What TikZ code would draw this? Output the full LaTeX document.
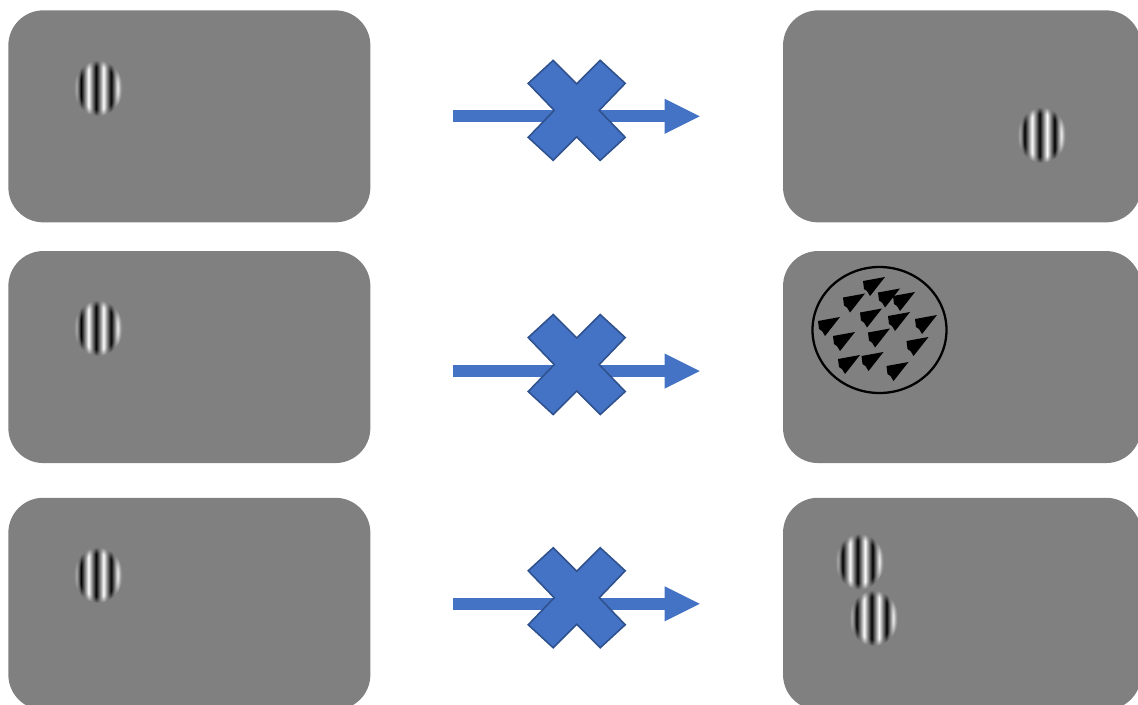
\documentclass[tikz,border=0pt]{standalone}
\usetikzlibrary{arrows.meta, positioning, fadings, calc}
\definecolor{screengray}{HTML}{808080}
\definecolor{flowblue}{HTML}{4472C4}
\definecolor{flowblued}{HTML}{2F528F}
\pgfdeclarehorizontalshading{gaborbars}{100bp}{color(0bp)=(screengray); color(25bp)=(screengray);
  color(28bp)=(white!80!black); color(33bp)=(black); color(40.5bp)=(white); color(48bp)=(black);
  color(55.5bp)=(white); color(63bp)=(black); color(70bp)=(white); color(75bp)=(screengray);
  color(100bp)=(screengray)}
\pgfdeclareradialshading{gaborenv}{\pgfpointorigin}{color(0bp)=(white); color(19bp)=(white);
  color(25bp)=(black); color(50bp)=(black)}
\pgfdeclarefading{gaborfade}{\pgfuseshading{gaborenv}}
\tikzset{
  panel/.style={fill=screengray, rounded corners=7mm, minimum width=72.4mm, minimum height=42.4mm, inner sep=0pt},
  flow/.style={-{Triangle[length=7mm, width=7mm, line width=0pt]}, draw=flowblue, line width=2.4mm,
    shorten <=16.4mm, shorten >=16.6mm},
  blockx/.style={fill=flowblue, draw=flowblued, line width=0.9pt, line join=miter},
  ring/.style={draw=black, line width=1.3pt},
  tipmark/.style={fill=black},
  gabor/.pic={\shade[shading=gaborbars, path fading=gaborfade] (0,0) ellipse (25 and 28);},
  nomark/.pic={\path[blockx] (0,-26.5) -- (23.5,-50) -- (48.5,-27) -- (22.5,0) -- (48.5,27) -- (23.5,50)
    -- (0,26.5) -- (-23.5,50) -- (-48.5,27) -- (-22.5,0) -- (-48.5,-27) -- (-23.5,-50) -- cycle;}
}
\begin{document}
\begin{tikzpicture}[x=0.2mm, y=-0.2mm]
\useasboundingbox (0,0) rectangle (1138,705);
% screens
\node[panel, anchor=north west] (l1) at (8,10) {};
\node[panel, below=5.6mm of l1] (l2) {};
\node[panel, below=6.8mm of l2] (l3) {};
\node[panel, right=82.4mm of l1, minimum width=71.6mm] (r1) {};
\node[panel, right=82.4mm of l2, minimum width=71.6mm] (r2) {};
\node[panel, right=82.4mm of l3, minimum width=71.6mm] (r3) {};
% gratings
\pic at (98,88) {gabor}; \pic at (98,328) {gabor}; \pic at (98,575) {gabor};
\pic at (1041.5,135) {gabor};
\pic at (859.5,561.5) {gabor}; \pic at (873.5,618) {gabor};
% dot field
\draw[ring] (879.5,330) ellipse (67 and 63);
\foreach \px/\py in {873/285, 853/301.5, 888/296.5, 903/300, 870/316.5, 898/320, 925/323,
  828/325, 843/340, 878/336.5, 916.5/345, 848/363, 871.5/360, 896.5/370}
  \fill[tipmark, shift={(\px,\py)}] (12,-8) -- (-10,-4) -- (-9,4) -- (-6,6) -- (-3,11) -- (1,6) -- cycle;
% blocked transitions
\draw[flow] (l1) -- (r1);
\draw[flow] ([yshift=-2.8mm]l2.east) -- ([yshift=-2.8mm]r2.west);
\draw[flow] (l3) -- (r3);
\pic at ($(l1.east)!0.5!(r1.west)+(0,-6)$) {nomark};
\pic at ($(l2.east)!0.5!(r2.west)+(0,7.5)$) {nomark};
\pic at ($(l3.east)!0.5!(r3.west)+(0,-6)$) {nomark};
\end{tikzpicture}
\end{document}
